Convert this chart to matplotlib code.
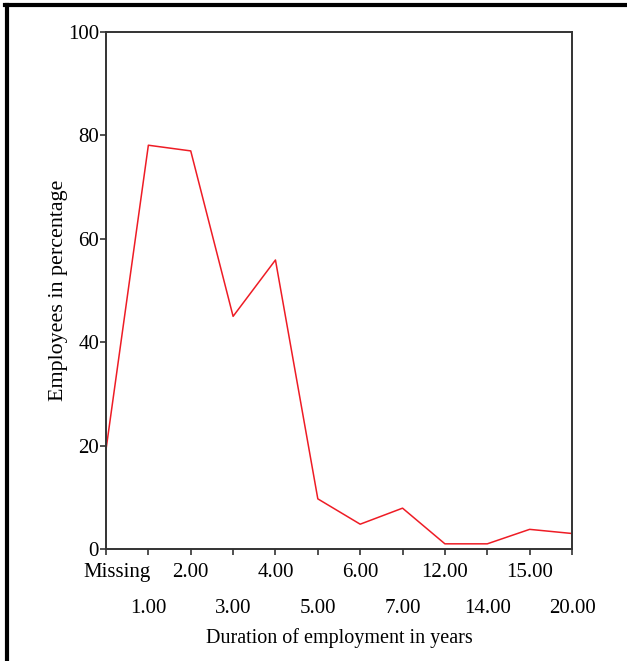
import matplotlib
matplotlib.use("Agg")
import matplotlib.pyplot as plt
from matplotlib.lines import Line2D
from matplotlib.transforms import ScaledTranslation

categories = ["Missing", "1.00", "2.00", "3.00", "4.00", "5.00", "6.00", "7.00",
              "12.00", "14.00", "15.00", "20.00"]
percent = [19.2, 78.1, 77.0, 45.0, 55.9, 9.7, 4.8, 7.9, 1.0, 1.0, 3.8, 3.0]

plt.rcParams['font.family'] = ['Liberation Serif', 'DejaVu Serif']

W, H = 627, 661
fig = plt.figure(figsize=(W / 100, H / 100), dpi=100)
ax = fig.add_axes([106 / W, 1 - 549 / H, (572 - 106) / W, (549 - 32) / H])

x = list(range(len(categories)))
ax.plot(x, percent, color="#ee1c25", lw=1.1)
ax.set_xlim(0, len(categories) - 1)
ax.set_ylim(0, 100)
ax.set_yticks([0, 20, 40, 60, 80, 100])

even = x[0::2]
odd = x[1::2]
ax.set_xticks(even)
ax.set_xticklabels(categories[0::2], fontsize=15)
ax.set_xticks(odd, minor=True)
ax.set_xticklabels(categories[1::2], minor=True, fontsize=15)

ax.tick_params(axis="y", labelsize=15, direction="out", length=4, width=1.2, color="#333333", pad=1)
ax.tick_params(axis="x", which="major", direction="out", length=4, width=1.2, color="#333333", pad=6)
ax.tick_params(axis="x", which="minor", direction="out", length=4, width=1.2, color="#333333", pad=32)

# shift "Missing" to the right as in the reference
lab0 = ax.get_xticklabels()[0]
lab0.set_transform(lab0.get_transform() + ScaledTranslation(0.11, 0, fig.dpi_scale_trans))

for s in ax.spines.values():
    s.set_linewidth(1.4)
    s.set_color("#333333")
ax.set_ylabel("Employees in percentage", fontsize=15.8, labelpad=0)
ax.set_xlabel("Duration of employment in years", fontsize=14.5, labelpad=7)

# outer frame (left and top)
fig.add_artist(Line2D([6.5 / W, 6.5 / W], [0, 1 - 5 / H], transform=fig.transFigure, color="black", lw=3))
fig.add_artist(Line2D([5 / W, 1], [1 - 5 / H, 1 - 5 / H], transform=fig.transFigure, color="black", lw=3))

fig.savefig("out.png", dpi=100)
